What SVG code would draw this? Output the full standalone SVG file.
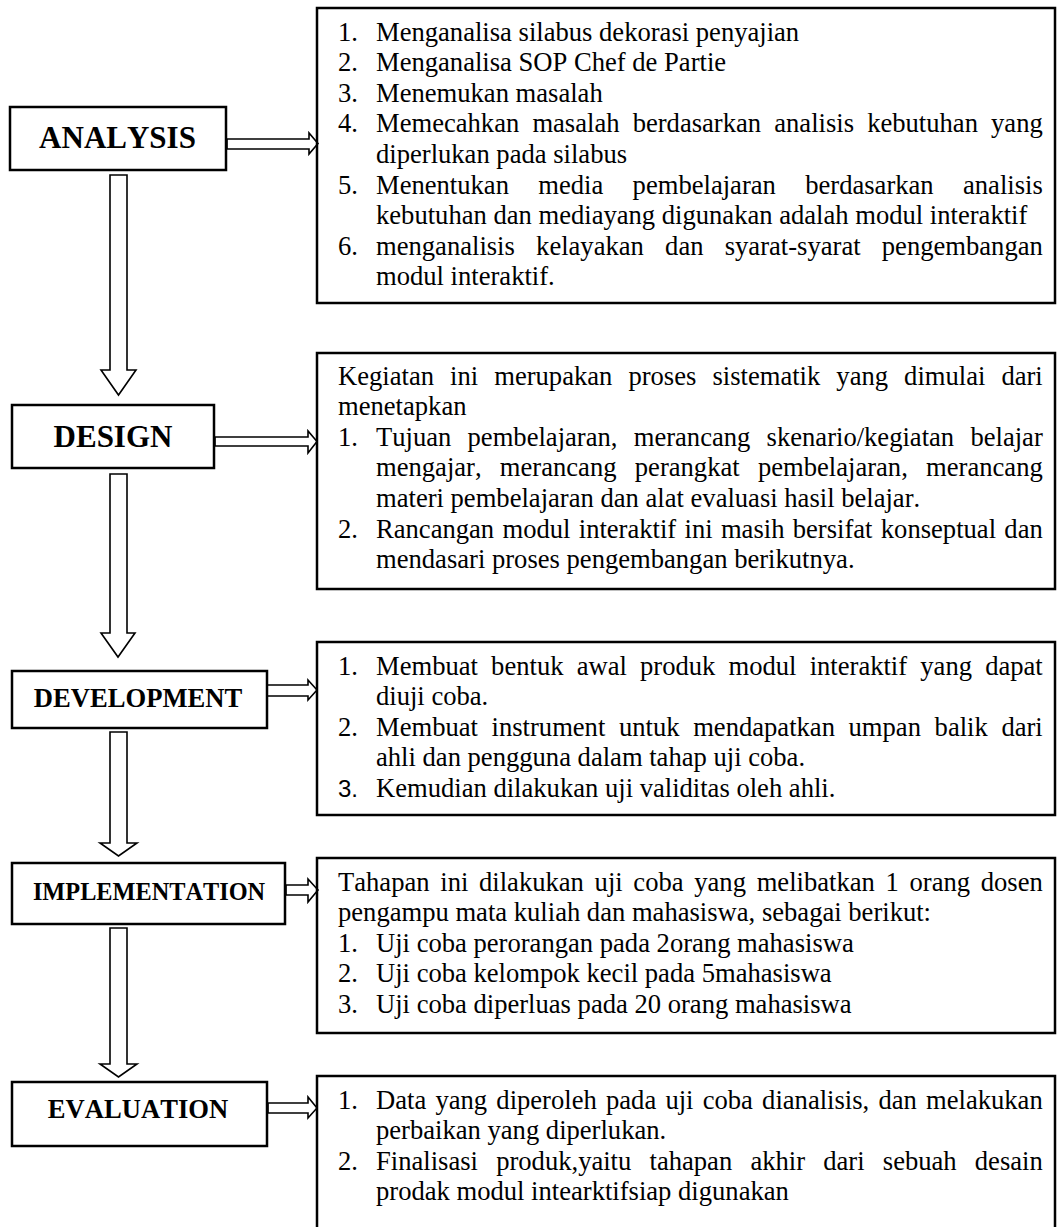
<svg xmlns="http://www.w3.org/2000/svg" width="1057" height="1227" viewBox="0 0 1057 1227">
<style>
.bg{fill:#ffffff}
.box{fill:#ffffff;stroke:#000000;stroke-width:2.5}
.tbox{fill:none;stroke:#000000;stroke-width:2.5}
.arrow{fill:#ffffff;stroke:#000000;stroke-width:1.6;stroke-linejoin:miter}
.lbl{font-family:"Liberation Serif","Times New Roman",serif;font-weight:bold;fill:#000000;text-anchor:middle;font-kerning:none}
.t{font-family:"Liberation Serif","Times New Roman",serif;font-size:26.6px;fill:#000000;font-kerning:none}
.s{font-family:"Liberation Sans",Arial,sans-serif;font-size:24px;fill:#000000}
</style>
<rect class="bg" x="0" y="0" width="1057" height="1227"/>

<g id="connectors">
  <polygon class="arrow" points="110,175 127,175 127,370 136,370 118.5,395 101,370 110,370"/>
  <polygon class="arrow" points="110,474 127,474 127,633 135,633 118,657 101,633 110,633"/>
  <polygon class="arrow" points="110,732 127,732 127,843 137,843 118.5,856 100,843 110,843"/>
  <polygon class="arrow" points="110,928 127,928 127,1064 137,1064 118.5,1077 100,1064 110,1064"/>
  <polygon class="arrow" points="227,139 309,139 309,133 318,143.5 309,154 309,149 227,149"/>
  <polygon class="arrow" points="215,437 308,437 308,431 317,441.5 308,453 308,446 215,446"/>
  <polygon class="arrow" points="262,685 308,685 308,680 317,690 308,700 308,696 262,696"/>
  <polygon class="arrow" points="286,885 308,885 308,879 318,890 308,902 308,895 286,895"/>
  <polygon class="arrow" points="268,1103 308,1103 308,1097 317,1108 308,1118 308,1113 268,1113"/>
</g>

<g id="analysis">
  <rect class="box" x="10" y="107" width="216" height="63"/>
  <text class="lbl" x="117.5" y="148" font-size="31">ANALYSIS</text>
</g>
<g id="design">
  <rect class="box" x="12" y="405" width="202" height="63"/>
  <text class="lbl" x="113" y="447" font-size="31">DESIGN</text>
</g>
<g id="development">
  <rect class="box" x="12" y="671" width="255" height="57"/>
  <text class="lbl" x="138" y="707" font-size="26.6">DEVELOPMENT</text>
</g>
<g id="implementation">
  <rect class="box" x="12" y="863" width="273" height="61"/>
  <text class="lbl" x="149" y="900" font-size="24.3">IMPLEMENTATION</text>
</g>
<g id="evaluation">
  <rect class="box" x="12" y="1082" width="255" height="64"/>
  <text class="lbl" x="138" y="1118" font-size="26.6">EVALUATION</text>
</g>

<g id="analysis-detail">
  <rect class="tbox" x="317" y="8" width="738" height="295"/>
  <text class="t" x="338" y="40.5">1.</text>
  <text class="t" x="376" y="40.5">Menganalisa silabus dekorasi penyajian</text>
  <text class="t" x="338" y="71.1">2.</text>
  <text class="t" x="376" y="71.1">Menganalisa SOP Chef de Partie</text>
  <text class="t" x="338" y="101.7">3.</text>
  <text class="t" x="376" y="101.7">Menemukan masalah</text>
  <text class="t" x="338" y="132.3">4.</text>
  <text class="t" x="376" y="132.3" word-spacing="6.49">Memecahkan masalah berdasarkan analisis kebutuhan yang</text>
  <text class="t" x="376" y="162.9">diperlukan pada silabus</text>
  <text class="t" x="338" y="193.5">5.</text>
  <text class="t" x="376" y="193.5" word-spacing="22.7">Menentukan media pembelajaran berdasarkan analisis</text>
  <text class="t" x="376" y="224.1">kebutuhan dan mediayang digunakan adalah modul interaktif</text>
  <text class="t" x="338" y="254.7">6.</text>
  <text class="t" x="376" y="254.7" word-spacing="14.58">menganalisis kelayakan dan syarat-syarat pengembangan</text>
  <text class="t" x="376" y="285.3">modul interaktif.</text>
</g>

<g id="design-detail">
  <rect class="tbox" x="317" y="353" width="738" height="236"/>
  <text class="t" x="338" y="384.5" word-spacing="9.42">Kegiatan ini merupakan proses sistematik yang dimulai dari</text>
  <text class="t" x="338" y="415.1">menetapkan</text>
  <text class="t" x="338" y="445.7">1.</text>
  <text class="t" x="376" y="445.7" word-spacing="9.6">Tujuan pembelajaran, merancang skenario/kegiatan belajar</text>
  <text class="t" x="376" y="476.3" word-spacing="11.64">mengajar, merancang perangkat pembelajaran, merancang</text>
  <text class="t" x="376" y="506.9">materi pembelajaran dan alat evaluasi hasil belajar.</text>
  <text class="t" x="338" y="537.5">2.</text>
  <text class="t" x="376" y="537.5" word-spacing="1.67">Rancangan modul interaktif ini masih bersifat konseptual dan</text>
  <text class="t" x="376" y="568.1">mendasari proses pengembangan berikutnya.</text>
</g>

<g id="development-detail">
  <rect class="tbox" x="317" y="642" width="738" height="173"/>
  <text class="t" x="338" y="674.5">1.</text>
  <text class="t" x="376" y="674.5" word-spacing="6.52">Membuat bentuk awal produk modul interaktif yang dapat</text>
  <text class="t" x="376" y="705.1">diuji coba.</text>
  <text class="t" x="338" y="735.7">2.</text>
  <text class="t" x="376" y="735.7" word-spacing="6.99">Membuat instrument untuk mendapatkan umpan balik dari</text>
  <text class="t" x="376" y="766.3">ahli dan pengguna dalam tahap uji coba.</text>
  <text class="s" x="338" y="796.9">3.</text>
  <text class="t" x="376" y="796.9">Kemudian dilakukan uji validitas oleh ahli.</text>
</g>

<g id="implementation-detail">
  <rect class="tbox" x="317" y="858" width="738" height="175"/>
  <text class="t" x="338" y="890.5" word-spacing="4.05">Tahapan ini dilakukan uji coba yang melibatkan 1 orang dosen</text>
  <text class="t" x="338" y="921.1">pengampu mata kuliah dan mahasiswa, sebagai berikut:</text>
  <text class="t" x="338" y="951.7">1.</text>
  <text class="t" x="376" y="951.7">Uji coba perorangan pada 2orang mahasiswa</text>
  <text class="t" x="338" y="982.3">2.</text>
  <text class="t" x="376" y="982.3">Uji coba kelompok kecil pada 5mahasiswa</text>
  <text class="t" x="338" y="1012.9">3.</text>
  <text class="t" x="376" y="1012.9">Uji coba diperluas pada 20 orang mahasiswa</text>
</g>

<g id="evaluation-detail">
  <path class="tbox" d="M317,1240 V1076 H1055 V1240"/>
  <text class="t" x="338" y="1108.5">1.</text>
  <text class="t" x="376" y="1108.5" word-spacing="2.57">Data yang diperoleh pada uji coba dianalisis, dan melakukan</text>
  <text class="t" x="376" y="1139.1">perbaikan yang diperlukan.</text>
  <text class="t" x="338" y="1169.7">2.</text>
  <text class="t" x="376" y="1169.7" word-spacing="11.55">Finalisasi produk,yaitu tahapan akhir dari sebuah desain</text>
  <text class="t" x="376" y="1200.3">prodak modul intearktifsiap digunakan</text>
</g>
</svg>
